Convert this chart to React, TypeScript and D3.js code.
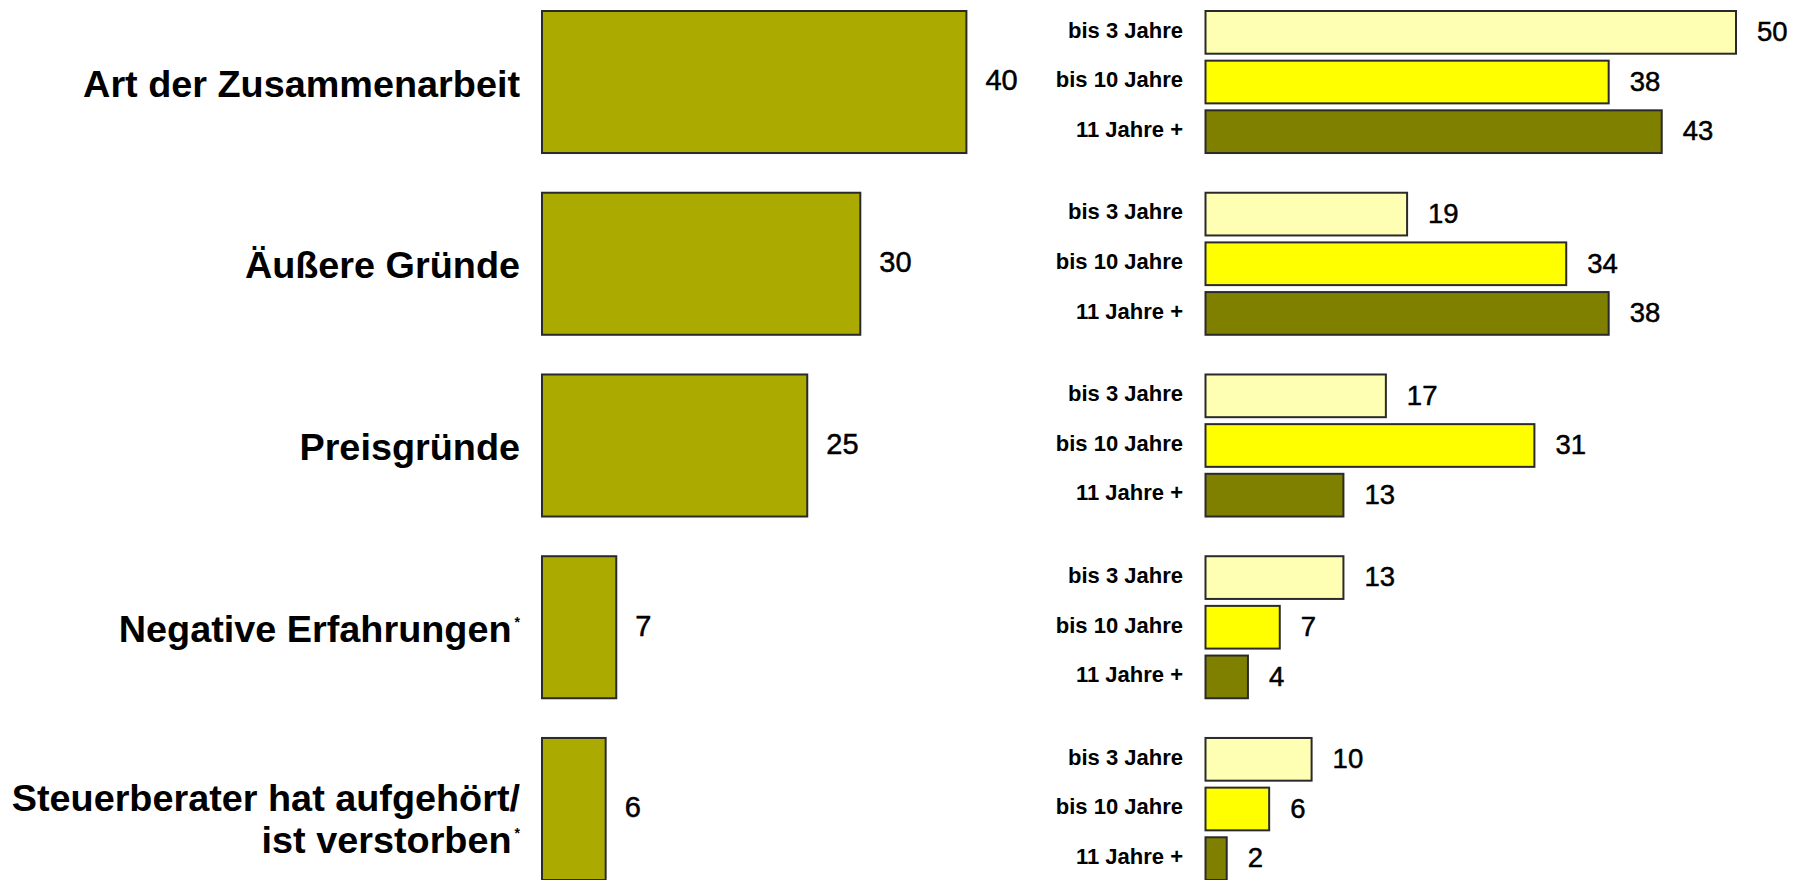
import React from "react";
import * as d3 from "d3";

const categories = [
  "Art der Zusammenarbeit",
  "Äußere Gründe",
  "Preisgründe",
  "Negative Erfahrungen",
  "Steuerberater hat aufgehört/|ist verstorben",
];
const starred = [false, false, false, true, true];
const totals = [40, 30, 25, 7, 6];

const groups = ["bis 3 Jahre", "bis 10 Jahre", "11 Jahre +"];
const bis3 = [50, 19, 17, 13, 10];
const bis10 = [38, 34, 31, 7, 6];
const elfPlus = [43, 38, 13, 4, 2];
const groupValues = [bis3, bis10, elfPlus];
const groupColors = ["#FFFFB3", "#FFFF00", "#808000"];
const totalColor = "#AAAA00";

const W = 1797;
const H = 880;
const FONT = "'Liberation Sans', Arial, sans-serif";

export default function App() {
  const yOuter = d3.scaleBand<string>().domain(categories).range([11, 880]).paddingInner(0.2185).paddingOuter(0);
  const yInner = d3.scaleBand<string>().domain(groups).range([0, yOuter.bandwidth()]).paddingInner(0.14).paddingOuter(0);
  const xLeft = d3.scaleLinear().domain([0, 50]).range([542, 542 + 530.5]);
  const xRight = d3.scaleLinear().domain([0, 50]).range([1205.5, 1736]);

  return (
    <div style={{ position: "fixed", left: 0, top: 0, width: W, height: H, overflow: "hidden", background: "#fff" }}>
      <svg width={W} height={H} style={{ display: "block" }}>
        {categories.map((cat, i) => {
          const y0 = yOuter(cat)!;
          const bw = yOuter.bandwidth();
          const cy = y0 + bw / 2;
          const lines = cat.split("|");
          const lineCenters = lines.length === 1 ? [cy + 1] : [cy - 11, cy + 31];
          return (
            <g key={cat}>
              {lines.map((ln, li) => (
                <text
                  key={li}
                  x={520}
                  y={lineCenters[li] + 13.5}
                  textAnchor="end"
                  fontFamily={FONT}
                  fontWeight="bold"
                  fontSize={37.8}
                  fill="#000"
                >
                  {ln}
                  {starred[i] && li === lines.length - 1 ? (
                    <tspan fontSize={14} dx={3} dy={-15}>*</tspan>
                  ) : null}
                </text>
              ))}
              <rect
                x={xLeft(0)}
                y={y0}
                width={xLeft(totals[i]) - xLeft(0)}
                height={bw}
                fill={totalColor}
                stroke="#2a2a2a"
                strokeWidth={2}
              />
              <text
                x={xLeft(totals[i]) + 19}
                y={cy - 2 + 10.3}
                fontFamily={FONT}
                fontSize={29}
                fill="#000"
                stroke="#000"
                strokeWidth={0.5}
              >
                {totals[i]}
              </text>
              {groups.map((g, gi) => {
                const by = y0 + yInner(g)!;
                const bh = yInner.bandwidth();
                const bcy = by + bh / 2;
                const v = groupValues[gi][i];
                return (
                  <g key={g}>
                    <text
                      x={1183}
                      y={bcy - 2.5 + 7.8}
                      textAnchor="end"
                      fontFamily={FONT}
                      fontWeight="bold"
                      fontSize={22}
                      fill="#000"
                    >
                      {g}
                    </text>
                    <rect
                      x={xRight(0)}
                      y={by}
                      width={xRight(v) - xRight(0)}
                      height={bh}
                      fill={groupColors[gi]}
                      stroke="#2a2a2a"
                      strokeWidth={2}
                    />
                    <text
                      x={xRight(v) + 21}
                      y={bcy - 1 + 9.8}
                      fontFamily={FONT}
                      fontSize={27.5}
                      fill="#000"
                      stroke="#000"
                      strokeWidth={0.5}
                    >
                      {v}
                    </text>
                  </g>
                );
              })}
            </g>
          );
        })}
      </svg>
    </div>
  );
}
